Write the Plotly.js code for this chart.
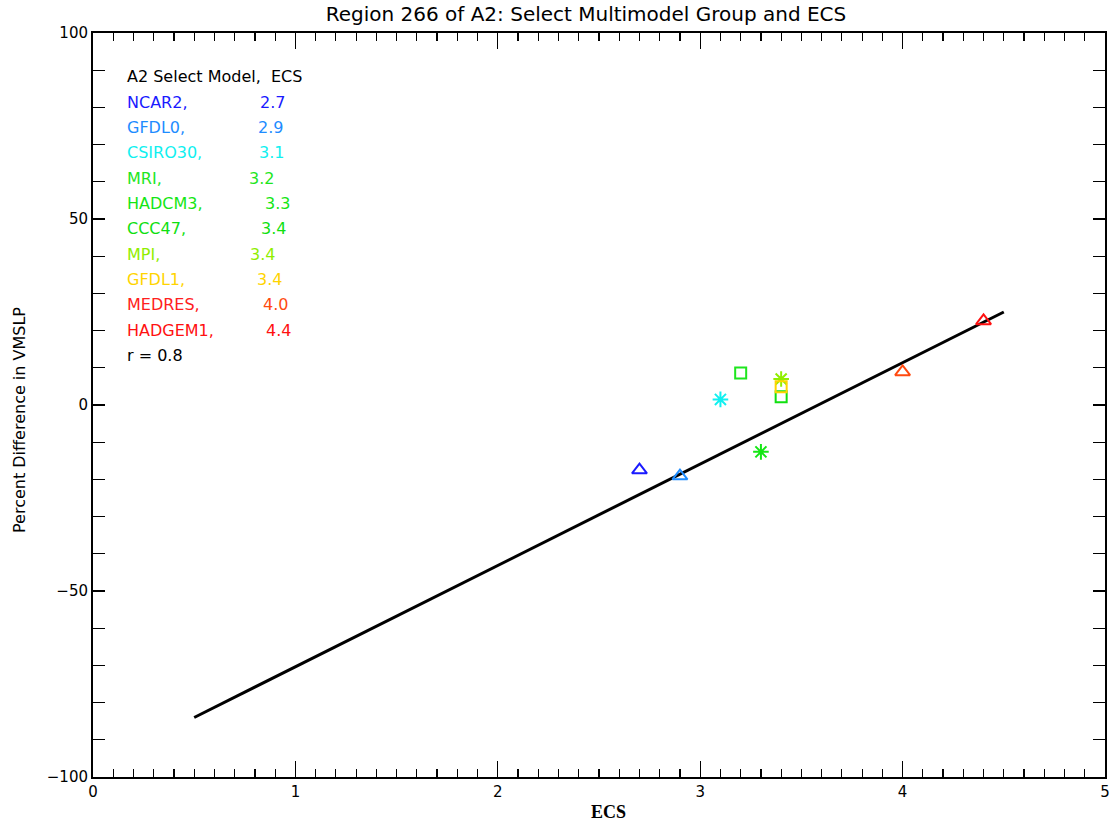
<!DOCTYPE html>
<html>
<head>
<meta charset="utf-8">
<script src="https://cdn.plot.ly/plotly-3.0.1.min.js"></script>
<style>html,body{margin:0;padding:0;background:#fff;}#chart{width:1115px;height:822px;}</style>
</head>
<body>
<div id="chart"></div>
<script>
// ---- data ----
var models = ["NCAR2", "GFDL0", "CSIRO30", "MRI", "HADCM3", "CCC47", "MPI", "GFDL1", "MEDRES", "HADGEM1"];
var ecs = [2.7, 2.9, 3.1, 3.2, 3.3, 3.4, 3.4, 3.4, 4.0, 4.4];
var pctDiff = [-17.5, -19.1, 1.5, 8.6, -12.6, 2.2, 7.0, 4.9, 8.9, 22.6];
var symbols = ["triangle-up-open", "triangle-up-open", "asterisk-open", "square-open", "asterisk-open", "square-open", "asterisk-open", "square-open", "triangle-up-open", "triangle-up-open"];
var colors = ["#1a1aff", "#1e8cff", "#10f0f0", "#1ee61e", "#14e614", "#10e010", "#90ee00", "#ffd400", "#ff4a10", "#ff1010"];
var nameColors = ["#1a1aff", "#1e8cff", "#10f0f0", "#1ee61e", "#14e614", "#10e010", "#90ee00", "#ffd400", "#ff2020", "#ff1010"];
var fitX = [0.5, 4.5];
var fitY = [-84, 25];
var rValue = 0.8;
var headerText = "A2 Select Model,  ECS";

// ---- layout helpers (pixel positions of the text block) ----
var W = 1115, H = 822;
var mL = 93, mR = 10, mT = 33, mB = 45;
var plotW = W - mL - mR, plotH = H - mT - mB;
function px2x(p) { return (p - mL) / plotW; }          // paper x
function py2y(p) { return 1 - (p - mT) / plotH; }      // paper y
var rowY0 = 77, rowStep = 25.3;
var nameX = 125;
var valueX = [258, 256, 257, 247, 263, 259, 248, 255, 261, 264];

var traces = [];
traces.push({
  x: fitX, y: fitY, mode: "lines", type: "scatter",
  line: {color: "#000", width: 3}, hoverinfo: "skip", showlegend: false
});
for (var i = 0; i < models.length; i++) {
  traces.push({
    x: [ecs[i]], y: [pctDiff[i]], mode: "markers", type: "scatter", name: models[i],
    marker: {symbol: symbols[i], size: symbols[i].indexOf("square") === 0 ? 11 : 13,
             color: colors[i], line: {color: colors[i], width: 2}},
    showlegend: false
  });
}

var font = "DejaVu Sans, Liberation Sans, sans-serif";
var ann = [];
ann.push({xref: "paper", yref: "paper", x: px2x(nameX), y: py2y(rowY0), xanchor: "left", yanchor: "middle",
  text: headerText, showarrow: false, font: {family: font, size: 16, color: "#000"}});
for (var j = 0; j < models.length; j++) {
  var yy = py2y(rowY0 + rowStep * (j + 1));
  ann.push({xref: "paper", yref: "paper", x: px2x(nameX), y: yy, xanchor: "left", yanchor: "middle",
    text: models[j] + ",", showarrow: false, font: {family: font, size: 16, color: nameColors[j]}});
  ann.push({xref: "paper", yref: "paper", x: px2x(valueX[j]), y: yy, xanchor: "left", yanchor: "middle",
    text: ecs[j].toFixed(1), showarrow: false, font: {family: font, size: 16, color: colors[j]}});
}
ann.push({xref: "paper", yref: "paper", x: px2x(nameX), y: py2y(rowY0 + rowStep * (models.length + 1)), xanchor: "left", yanchor: "middle",
  text: "r = " + rValue.toFixed(1), showarrow: false, font: {family: font, size: 16, color: "#000"}});
ann.push({xref: "paper", yref: "paper", x: px2x(608), y: py2y(812), xanchor: "center", yanchor: "middle",
  text: "<b>ECS</b>", showarrow: false, font: {family: "Liberation Serif, serif", size: 18, color: "#000"}});
ann.push({xref: "paper", yref: "paper", x: px2x(19), y: py2y(420), xanchor: "center", yanchor: "middle", textangle: -90,
  text: "Percent Difference in VMSLP", showarrow: false, font: {family: font, size: 16, color: "#000"}});

var layout = {
  width: W, height: H,
  margin: {l: mL, r: mR, t: mT, b: mB},
  paper_bgcolor: "#fff", plot_bgcolor: "#fff",
  showlegend: false,
  title: {text: "Region 266 of A2: Select Multimodel Group and ECS", x: 586 / W, xanchor: "center",
          y: 1 - 14 / H, yanchor: "middle", font: {family: font, size: 20, color: "#000"}},
  xaxis: {
    range: [0, 5], dtick: 1, tick0: 0, showgrid: false, zeroline: false,
    showline: true, linecolor: "#000", linewidth: 2, mirror: "ticks",
    ticks: "inside", ticklen: 16, tickwidth: 1.2, tickcolor: "#000",
    minor: {dtick: 0.1, ticks: "inside", ticklen: 8, tickwidth: 1.2, tickcolor: "#000", showgrid: false},
    tickfont: {family: font, size: 15, color: "#000"}
  },
  yaxis: {
    range: [-100, 100], dtick: 50, tick0: 0, showgrid: false, zeroline: false,
    showline: true, linecolor: "#000", linewidth: 2, mirror: "ticks",
    ticks: "inside", ticklen: 12, tickwidth: 1.2, tickcolor: "#000",
    minor: {dtick: 10, ticks: "inside", ticklen: 12, tickwidth: 1.2, tickcolor: "#000", showgrid: false},
    tickfont: {family: font, size: 15, color: "#000"}
  },
  annotations: ann
};

Plotly.newPlot("chart", traces, layout, {displayModeBar: false, staticPlot: true});
</script>
</body>
</html>
